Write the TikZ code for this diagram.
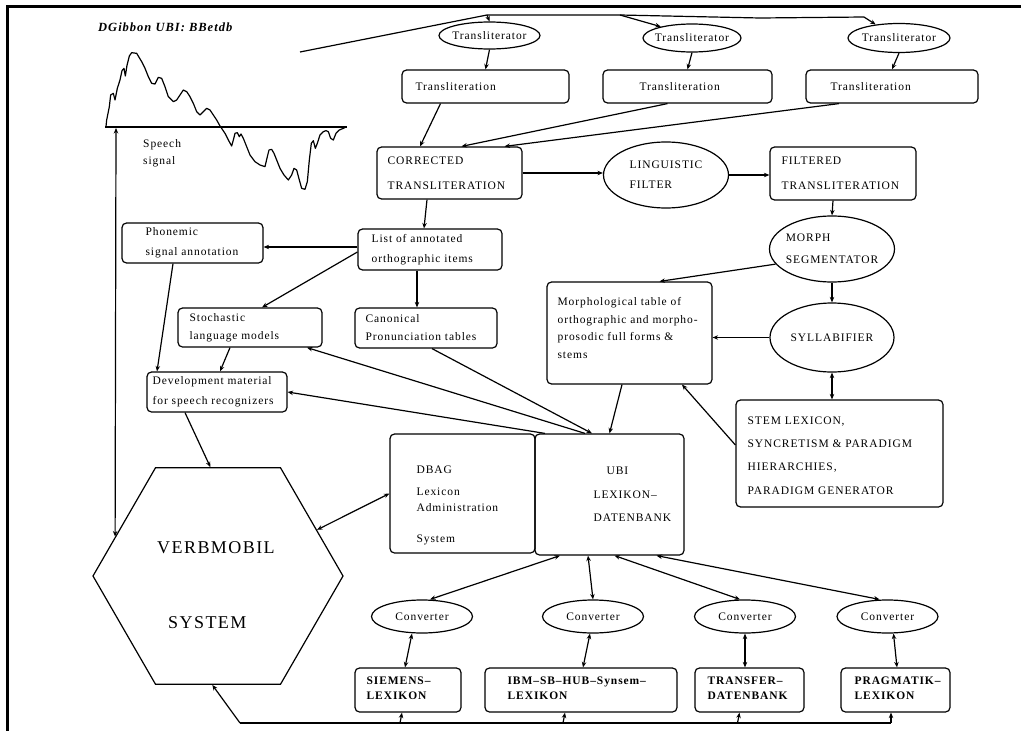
\documentclass[tikz,border=0pt]{standalone}
\usepackage{fontspec}
\setmainfont{Liberation Serif}[LetterSpace=8]
\usetikzlibrary{shapes.geometric,arrows.meta}
\newcommand\nfs[1]{\fontsize{11.5}{#1}\selectfont}

\begin{document}
\begin{tikzpicture}[x=1pt,y=-1pt,
  bx/.style={draw, rounded corners=4.5pt, line width=1.2pt, inner sep=0pt},
  el/.style={draw, ellipse, line width=1.2pt, inner sep=0pt},
  tx/.style={align=left, inner sep=0pt, font=\nfs{20}},
  ar/.style={line width=1.2pt, -{Stealth[length=5.5pt,width=4.5pt]}},
  dar/.style={line width=1.2pt, {Stealth[length=5.5pt,width=4.5pt]}-{Stealth[length=5.5pt,width=4.5pt]}},
  ln/.style={line width=1.2pt},
  ]
\useasboundingbox (0,0) rectangle (1021,731);

% page frame (top and left edges)
\draw[line width=3pt, line join=miter] (7,731) -- (7,6) -- (1021,6);

% header
\node[anchor=base west, inner sep=0pt, font=\fontsize{12.5}{14}\selectfont\bfseries\itshape] (hdr) at (98,31) {DGibbon UBI: BBetdb};

% speech signal
\draw[ln] (105,127) -- (347,127);
\begin{scope}[xshift=80pt, x=0.33333pt, y=-0.33333pt]
\draw[ln, line join=round] (78,380) -- (80,360) -- (88,320) -- (92,285) -- (100,280) -- (105,300)
  -- (112,265) -- (120,240) -- (126,212) -- (132,205) -- (136,228) -- (141,196) -- (148,168)
  -- (155,158) -- (170,160) -- (185,185) -- (195,205) -- (205,230) -- (215,250) -- (225,252)
  -- (235,232) -- (245,235) -- (255,260) -- (265,290) -- (280,305) -- (290,300) -- (300,285)
  -- (310,270) -- (320,275) -- (330,290) -- (340,310) -- (350,335) -- (360,345) -- (370,335)
  -- (380,325) -- (390,330) -- (400,345) -- (410,360) -- (420,378) -- (425,385) -- (435,400)
  -- (445,420) -- (455,438) -- (460,420) -- (465,400) -- (472,398) -- (478,410) -- (483,402)
  -- (490,415) -- (500,440) -- (510,465) -- (525,485) -- (540,495) -- (555,500) -- (562,470)
  -- (567,450) -- (575,448) -- (582,460) -- (590,480) -- (600,505) -- (612,525) -- (625,540)
  -- (635,525) -- (642,505) -- (650,510) -- (658,540) -- (665,565) -- (675,568) -- (682,545)
  -- (688,480) -- (694,430) -- (700,422) -- (706,445) -- (712,430) -- (720,405) -- (730,395)
  -- (738,392) -- (745,395) -- (752,415) -- (760,420) -- (768,400) -- (778,390) -- (790,385)
  -- (800,380);
\end{scope}
\node[tx, anchor=north west, font=\nfs{17}] (sigtxt) at (143,139) {Speech\\signal};
\coordinate (sigb) at (116,128);

% VERBMOBIL system
\node[draw, line width=1.2pt, regular polygon, regular polygon sides=6, minimum size=250pt, inner sep=0pt] (vb) at (218,576) {};
\node[anchor=base west, inner sep=0pt, font=\fontsize{18}{20}\selectfont] (vbt1) at (157,553) {VERBMOBIL};
\node[anchor=base west, inner sep=0pt, font=\fontsize{18}{20}\selectfont] (vbt2) at (168,628) {SYSTEM};

% transliterators
\node[el, minimum width=101pt, minimum height=27pt] (tr1) at (489.5,35.5) {};
\node[el, minimum width=98pt, minimum height=28pt] (tr2) at (692,38) {};
\node[el, minimum width=102pt, minimum height=29pt] (tr3) at (899,38) {};
\node[tx] (tr1t) at (tr1.center) {Transliterator};
\node[tx] (tr2t) at (tr2.center) {Transliterator};
\node[tx] (tr3t) at (tr3.center) {Transliterator};

\node[bx, minimum width=167pt, minimum height=33pt] (tl1) at (485.5,86.5) {};
\node[bx, minimum width=169pt, minimum height=33pt] (tl2) at (687.5,86.5) {};
\node[bx, minimum width=172pt, minimum height=33pt] (tl3) at (892,86.5) {};
\node[tx, anchor=west] (tl1t) at ([xshift=14pt]tl1.west) {Transliteration};
\node[tx, anchor=west] (tl2t) at ([xshift=37pt]tl2.west) {Transliteration};
\node[tx, anchor=west] (tl3t) at ([xshift=25pt]tl3.west) {Transliteration};

% transliteration chain
\node[bx, minimum width=145pt, minimum height=52pt] (corr) at (449.5,173) {};
\node[tx, anchor=west, font=\nfs{25}] (corrt) at ([xshift=11pt]corr.west) {CORRECTED\\TRANSLITERATION};
\node[el, minimum width=125pt, minimum height=66pt] (ling) at (666,175) {};
\node[tx] (lingt) at (ling.center) {LINGUISTIC\\FILTER};
\node[bx, minimum width=146pt, minimum height=53pt] (filt) at (843,173.5) {};
\node[tx, anchor=west, font=\nfs{25}] (filtt) at ([xshift=12pt]filt.west) {FILTERED\\TRANSLITERATION};
\node[el, minimum width=125pt, minimum height=66pt] (morph) at (832,249) {};
\node[tx, font=\nfs{22}] (morpht) at (morph.center) {MORPH\\SEGMENTATOR};
\node[el, minimum width=124pt, minimum height=69pt] (syll) at (832,337.5) {};
\node[tx] (syllt) at (syll.center) {SYLLABIFIER};

% lexicon resources
\node[bx, minimum width=165pt, minimum height=102pt] (mbox) at (629.5,333) {};
\node[tx, anchor=west, font=\nfs{17.7}] (mboxt) at ([xshift=11pt,yshift=5pt]mbox.west)
  {Morphological table of\\orthographic and morpho-\\prosodic full forms \&\\stems};
\node[bx, minimum width=207pt, minimum height=107pt] (stem) at (839.5,453.5) {};
\node[tx, anchor=west, font=\nfs{23.3}] (stemt) at ([xshift=12pt,yshift=-2pt]stem.west)
  {STEM LEXICON,\\SYNCRETISM \& PARADIGM\\HIERARCHIES,\\PARADIGM GENERATOR};

\node[bx, minimum width=141pt, minimum height=40pt] (phon) at (192.5,243) {};
\node[tx, anchor=west] (phont) at ([xshift=24pt]phon.west) {Phonemic\\signal annotation};
\node[bx, minimum width=144pt, minimum height=41pt] (list) at (430,249.5) {};
\node[tx, anchor=west] (listt) at ([xshift=14pt]list.west) {List of annotated\\orthographic items};
\node[bx, minimum width=144pt, minimum height=39pt] (stoch) at (250,327.5) {};
\node[tx, anchor=west, font=\nfs{18}] (stocht) at ([xshift=12pt]stoch.west) {Stochastic\\language models};
\node[bx, minimum width=142pt, minimum height=40pt] (canon) at (426,328) {};
\node[tx, anchor=west, font=\nfs{18}] (canont) at ([xshift=11pt]canon.west) {Canonical\\Pronunciation tables};
\node[bx, minimum width=140pt, minimum height=40pt] (dev) at (217,392) {};
\node[tx, anchor=west] (devt) at ([xshift=6pt]dev.west) {Development material\\for speech recognizers};

\node[bx, minimum width=145pt, minimum height=119pt] (dbag) at (462.5,493.5) {};
\node[tx, anchor=west, font=\nfs{16}] (dbagt) at ([xshift=27pt,yshift=-12pt]dbag.west)
  {DBAG\\[6pt]Lexicon\\Administration\\[15pt]System};
\node[bx, minimum width=149pt, minimum height=121pt] (ubi) at (609.5,494.5) {};
\node[tx, anchor=west, font=\nfs{23.5}] (ubit) at ([xshift=59pt]ubi.west)
  {\hspace*{13pt}UBI\\LEXIKON--\\DATENBANK};

% converters and target lexica
\node[el, minimum width=101pt, minimum height=33pt] (cv1) at (422,616.5) {};
\node[el, minimum width=101pt, minimum height=33pt] (cv2) at (593,616.5) {};
\node[el, minimum width=101pt, minimum height=33pt] (cv3) at (745,616.5) {};
\node[el, minimum width=101pt, minimum height=33pt] (cv4) at (887.5,616.5) {};
\node[tx] (cv1t) at (cv1.center) {Converter};
\node[tx] (cv2t) at (cv2.center) {Converter};
\node[tx] (cv3t) at (cv3.center) {Converter};
\node[tx] (cv4t) at (cv4.center) {Converter};

\node[bx, minimum width=106pt, minimum height=44pt] (lx1) at (408,690) {};
\node[bx, minimum width=192pt, minimum height=44pt] (lx2) at (581,690) {};
\node[bx, minimum width=109pt, minimum height=44pt] (lx3) at (749.5,690) {};
\node[bx, minimum width=109pt, minimum height=44pt] (lx4) at (895.5,690) {};
\node[tx, anchor=west, font=\nfs{15}\bfseries] (lx1t) at ([xshift=12pt,yshift=2pt]lx1.west) {SIEMENS--\\LEXIKON};
\node[tx, anchor=west, font=\nfs{15}\bfseries] (lx2t) at ([xshift=23pt,yshift=2pt]lx2.west) {IBM--SB--HUB--Synsem--\\LEXIKON};
\node[tx, anchor=west, font=\nfs{15}\bfseries] (lx3t) at ([xshift=13pt,yshift=2pt]lx3.west) {TRANSFER--\\DATENBANK};
\node[tx, anchor=west, font=\nfs{15}\bfseries] (lx4t) at ([xshift=14pt,yshift=2pt]lx4.west) {PRAGMATIK--\\LEXIKON};

% ---- connectors ----
% signal to transliterators
\coordinate (sg) at (300,52);
\coordinate (j1) at (487,15);
\coordinate (j2) at (620,15);
\coordinate (j2b) at (760,18);
\coordinate (j3) at (864,17);
\draw[ln] (sg) -- (j1) -- (j2) -- (j2b) -- (j3);
\draw[ar] (j1) -- (tr1.north);
\draw[ar] (j2) -- (tr2.160);
\draw[ar] (j3) -- (tr3.150);
\draw[ar] (tr1.south) -- (tl1.north);
\draw[ar] (tr2.south) -- (tl2.north);
\draw[ar] (tr3.south) -- (tl3.north);
\draw[ar] ([xshift=-45pt]tl1.south) -- ([xshift=-29.5pt]corr.north);
\draw[ar] ([xshift=-20pt]tl2.south) -- ([xshift=12pt]corr.north);
\draw[ar] ([xshift=-53pt]tl3.south) -- ([xshift=55pt]corr.north);

\draw[ar] (corr.east) -- (corr.east -| ling.west);
\draw[ar] (ling.east) -- (ling.east -| filt.west);
\draw[ar] ([xshift=-10pt]filt.south) -- (morph.north);
\draw[ar] (morph.south) -- (syll.north);
\draw[ar] (morph.195) -- ([xshift=30pt]mbox.north);
\draw[ar] (syll.west) -- (syll.west -| mbox.east);
\draw[dar] (syll.south) -- (stem.north -| syll.south);
\draw[ar] ([yshift=8.5pt]stem.west) -- ([xshift=52.5pt]mbox.south);
\draw[ar] ([xshift=-7.5pt]mbox.south) -- (ubi.north);

% annotation branch
\draw[ar] ([xshift=-22.5pt]corr.south) -- ([xshift=-6pt]list.north);
\draw[ar] ([yshift=2.5pt]list.west) -- ([yshift=-4pt]phon.east);
\draw[ar] ([yshift=-2.5pt]list.west) -- ([xshift=12pt]stoch.north);
\draw[ar] ([xshift=-13pt]list.south) -- ([xshift=-9pt]canon.north);
\draw[ar] ([xshift=-19.5pt]phon.south) -- ([xshift=-60pt]dev.north);
\draw[ar] ([xshift=-20pt]stoch.south) -- ([xshift=3pt]dev.north);
\draw[ar] ([xshift=-32pt]dev.south) -- (vb.94);
\draw[ar] ([xshift=-24.5pt]ubi.north) -- ([xshift=57pt]stoch.south);
\draw[ar] ([xshift=6pt]canon.south) -- ([xshift=-17.5pt]ubi.north);
\draw[ar] ([xshift=-64.5pt]ubi.north) -- (dev.east);

% system links
\draw[dar] (sigb) -- (vb.159);
\draw[dar] (vb.25) -- (dbag.west);

% database to converters to lexica
\draw[dar] ([xshift=-49.5pt]ubi.south) -- ([xshift=8pt]cv1.north);
\draw[dar] ([xshift=-21.5pt]ubi.south) -- (cv2.north);
\draw[dar] ([xshift=5pt]ubi.south) -- ([xshift=-5pt]cv3.north);
\draw[dar] ([xshift=47pt]ubi.south) -- ([xshift=-8pt]cv4.north);
\draw[dar] ([xshift=-10pt]cv1.south) -- ([xshift=-3pt]lx1.north);
\draw[dar] ([xshift=-3pt]cv2.south) -- ([xshift=2pt]lx2.north);
\draw[dar] (cv3.south) -- ([xshift=-4.5pt]lx3.north);
\draw[dar] ([xshift=6pt]cv4.south) -- ([xshift=1.5pt]lx4.north);

% lexica back to the system
\coordinate (bus0) at (240,723);
\coordinate (bus1) at (891,723);
\draw[ln] (bus0) -- (bus1);
\draw[ar] (bus0) -- (vb.267);
\draw[ar] (bus0 -| lx1.south) ++(-8,0) -- ([xshift=-6pt]lx1.south);
\draw[ar] (bus0 -| lx2.south) ++(-18,0) -- ([xshift=-16pt]lx2.south);
\draw[ar] (bus0 -| lx3.south) ++(-12,0) -- ([xshift=-10pt]lx3.south);
\draw[ar] (bus1) -- (bus1 |- lx4.south);
\end{tikzpicture}
\end{document}
